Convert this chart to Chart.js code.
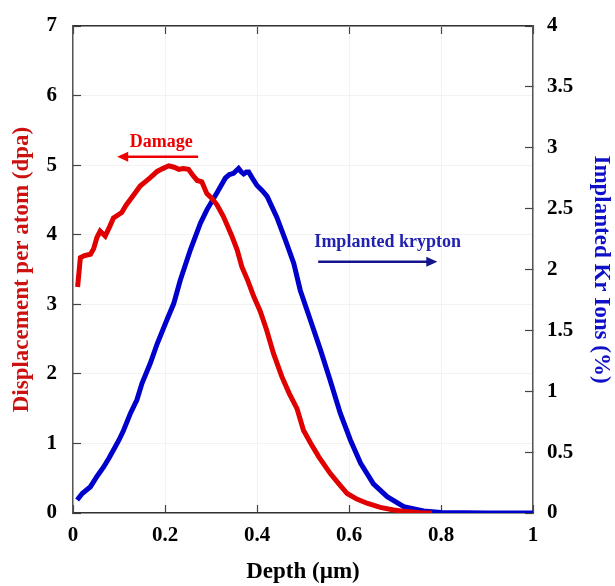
<!DOCTYPE html>
<html>
<head>
<meta charset="utf-8">
<script src="https://cdn.jsdelivr.net/npm/chart.js@4.4.0/dist/chart.umd.min.js"></script>
<style>
  html, body { margin: 0; padding: 0; background: #fff; }
  canvas { display: block; }
</style>
</head>
<body>
<canvas id="chart" width="615" height="586"></canvas>
<script>
// Damage profile (dpa) vs depth (um)
const depthDmg = [0.010, 0.016, 0.025, 0.038, 0.045, 0.052, 0.059, 0.070, 0.080, 0.088, 0.097, 0.106, 0.115, 0.125, 0.135, 0.146, 0.157, 0.168, 0.183, 0.195, 0.208, 0.220, 0.230, 0.240, 0.251, 0.262, 0.270, 0.280, 0.291, 0.302, 0.313, 0.327, 0.346, 0.357, 0.367, 0.380, 0.393, 0.407, 0.420, 0.436, 0.454, 0.470, 0.487, 0.501, 0.517, 0.534, 0.559, 0.578, 0.596, 0.617, 0.639, 0.668, 0.697, 0.725, 0.755, 0.780];
const damage = [3.25, 3.67, 3.70, 3.72, 3.80, 3.96, 4.05, 3.98, 4.12, 4.24, 4.28, 4.32, 4.42, 4.51, 4.60, 4.70, 4.76, 4.82, 4.91, 4.95, 4.99, 4.97, 4.94, 4.95, 4.94, 4.84, 4.78, 4.76, 4.59, 4.52, 4.43, 4.26, 3.97, 3.78, 3.54, 3.34, 3.11, 2.90, 2.65, 2.29, 1.96, 1.72, 1.50, 1.19, 1.00, 0.81, 0.57, 0.42, 0.28, 0.20, 0.14, 0.08, 0.043, 0.02, 0.005, 0.0];

// Implanted Kr concentration (%) vs depth (um)
const depthKr = [0.009, 0.020, 0.038, 0.052, 0.067, 0.078, 0.088, 0.100, 0.110, 0.125, 0.139, 0.150, 0.168, 0.183, 0.204, 0.219, 0.233, 0.255, 0.277, 0.291, 0.313, 0.331, 0.340, 0.349, 0.360, 0.366, 0.371, 0.377, 0.382, 0.390, 0.400, 0.411, 0.422, 0.443, 0.462, 0.480, 0.494, 0.516, 0.538, 0.559, 0.581, 0.603, 0.625, 0.653, 0.683, 0.719, 0.762, 0.800, 0.850, 0.900, 0.950, 1.000];
const krypton = [0.107, 0.16, 0.216, 0.30, 0.38, 0.45, 0.517, 0.60, 0.68, 0.82, 0.93, 1.065, 1.23, 1.39, 1.585, 1.72, 1.91, 2.16, 2.38, 2.49, 2.63, 2.75, 2.78, 2.79, 2.83, 2.80, 2.785, 2.80, 2.80, 2.75, 2.69, 2.65, 2.60, 2.43, 2.24, 2.05, 1.83, 1.585, 1.34, 1.09, 0.82, 0.60, 0.41, 0.24, 0.134, 0.052, 0.016, 0.005, 0.002, 0, 0, 0];

const xTicks = [0, 0.2, 0.4, 0.6, 0.8, 1];
const leftTicks = [0, 1, 2, 3, 4, 5, 6, 7];
const rightTicks = [0, 0.5, 1, 1.5, 2, 2.5, 3, 3.5, 4];

const serif = "'Liberation Serif', 'DejaVu Serif', serif";
const tickFont = { family: serif, size: 21, weight: 'bold' };
const titleFont = { family: serif, size: 23, weight: 'bold' };

// text + arrow annotations, placed through the scales
const annotations = {
    id: 'annotations',
    afterDatasetsDraw(chart) {
        const ctx = chart.ctx;
        const x = chart.scales.x, yL = chart.scales.y, yR = chart.scales.y2;
        ctx.save();
        ctx.font = "bold 18px " + serif;
        ctx.textAlign = 'center';
        ctx.textBaseline = 'middle';

        ctx.fillStyle = '#ee0000';
        ctx.fillText('Damage', x.getPixelForValue(0.192), yL.getPixelForValue(5.33));
        drawArrow(ctx, x.getPixelForValue(0.272), x.getPixelForValue(0.096), yL.getPixelForValue(5.12), '#ee0000');

        ctx.fillStyle = '#2222b0';
        ctx.fillText('Implanted krypton', x.getPixelForValue(0.684), yR.getPixelForValue(2.22));
        drawArrow(ctx, x.getPixelForValue(0.533), x.getPixelForValue(0.792), yR.getPixelForValue(2.064), '#14148c');
        ctx.restore();
    }
};

function drawArrow(ctx, x1, x2, y, color) {
    const dir = x2 > x1 ? 1 : -1;
    ctx.strokeStyle = color;
    ctx.fillStyle = color;
    ctx.lineWidth = 2.5;
    ctx.beginPath();
    ctx.moveTo(x1, y);
    ctx.lineTo(x2 - dir * 8, y);
    ctx.stroke();
    ctx.beginPath();
    ctx.moveTo(x2, y);
    ctx.lineTo(x2 - dir * 11, y - 5);
    ctx.lineTo(x2 - dir * 11, y + 5);
    ctx.closePath();
    ctx.fill();
}

// fixed axis box sizes so the plot area sits where the original has it
function fixY(width) {
    return s => { s.width = width; s.paddingTop = 0; s.paddingBottom = 0; };
}

new Chart(document.getElementById('chart'), {
    type: 'line',
    data: {
        datasets: [{
            label: 'Damage',
            data: depthDmg.map((d, i) => ({ x: d, y: damage[i] })),
            borderColor: '#e00000',
            borderWidth: 5,
            pointRadius: 0,
            yAxisID: 'y'
        }, {
            label: 'Implanted krypton',
            data: depthKr.map((d, i) => ({ x: d, y: krypton[i] })),
            borderColor: '#0000cc',
            borderWidth: 5,
            pointRadius: 0,
            yAxisID: 'y2'
        }]
    },
    options: {
        responsive: false,
        animation: false,
        layout: { padding: 0 },
        plugins: {
            legend: { display: false },
            tooltip: { enabled: false }
        },
        scales: {
            x: {
                type: 'linear',
                position: 'bottom',
                min: 0,
                max: 1,
                afterBuildTicks: s => { s.ticks = xTicks.map(v => ({ value: v })); },
                afterFit: s => { s.height = 73; },
                ticks: {
                    font: tickFont,
                    color: '#000',
                    padding: 18,
                    maxRotation: 0,
                    callback: v => String(v)
                },
                grid: { color: '#f2f2f2', tickColor: '#444', tickLength: -8, tickWidth: 1.2 },
                border: { color: '#333', width: 1.5 },
                title: { display: true, text: 'Depth (µm)', font: titleFont, color: '#000', padding: 0 }
            },
            xTop: {
                type: 'linear',
                position: 'top',
                min: 0,
                max: 1,
                afterBuildTicks: s => { s.ticks = xTicks.map(v => ({ value: v })); },
                afterFit: s => { s.height = 26; },
                ticks: { display: false },
                grid: { drawOnChartArea: false, tickColor: '#444', tickLength: -8, tickWidth: 1.2 },
                border: { color: '#333', width: 1.5 }
            },
            y: {
                position: 'left',
                min: 0,
                max: 7,
                afterBuildTicks: s => { s.ticks = leftTicks.map(v => ({ value: v })); },
                afterFit: fixY(73),
                ticks: { font: tickFont, color: '#000', padding: 24, callback: v => String(v) },
                grid: { color: '#f2f2f2', tickColor: '#444', tickLength: -8, tickWidth: 1.2 },
                border: { color: '#555', width: 1.5 },
                title: { display: true, text: 'Displacement per atom (dpa)', font: titleFont, color: '#cc1111', padding: { top: 8, bottom: 0 } }
            },
            y2: {
                position: 'right',
                min: 0,
                max: 4,
                afterBuildTicks: s => { s.ticks = rightTicks.map(v => ({ value: v })); },
                afterFit: fixY(82),
                ticks: { font: tickFont, color: '#000', padding: 22, callback: v => String(v) },
                grid: { drawOnChartArea: false, tickColor: '#444', tickLength: -8, tickWidth: 1.2 },
                border: { color: '#555', width: 1.5 },
                title: { display: true, text: 'Implanted Kr Ions (%)', font: titleFont, color: '#1010c8', padding: { top: 0, bottom: 0 } }
            }
        }
    },
    plugins: [annotations]
});
</script>
</body>
</html>
